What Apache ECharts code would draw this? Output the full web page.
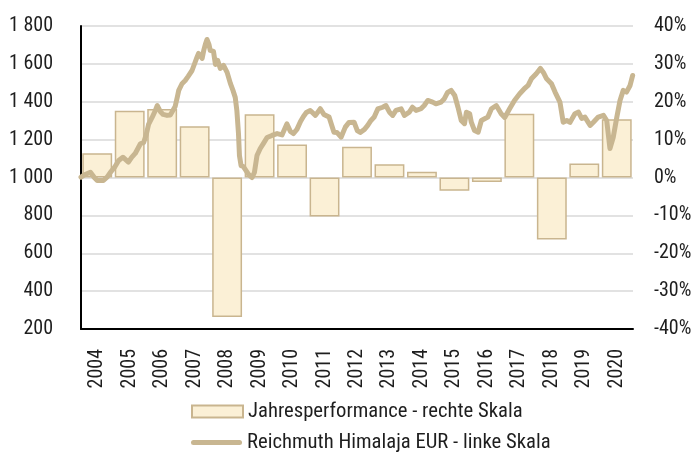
<!DOCTYPE html>
<html>
<head>
<meta charset="utf-8">
<script src="https://cdn.jsdelivr.net/npm/echarts@6/dist/echarts.min.js"></script>
<style>
html,body{margin:0;padding:0;background:#fff;}
#chart{width:699px;height:452px;}
</style>
</head>
<body>
<div id="chart"></div>
<script>
var years = ['2004','2005','2006','2007','2008','2009','2010','2011','2012','2013','2014','2015','2016','2017','2018','2019','2020'];
var annualPerformance = [6.4, 17.6, 18.1, 13.5, -36.8, 16.7, 8.7, -10.3, 8.1, 3.5, 1.5, -3.5, -1.2, 16.8, -16.4, 3.7, 15.4];

var lineDates = [2004.00,2004.13,2004.29,2004.41,2004.50,2004.69,2004.81,2004.90,2005.03,2005.16,2005.29,2005.46,2005.56,2005.67,2005.83,2005.93,
2006.01,2006.08,2006.19,2006.29,2006.35,2006.44,2006.53,2006.65,2006.75,2006.83,2006.90,2006.97,
2007.01,2007.11,2007.21,2007.30,2007.42,2007.50,2007.57,2007.62,2007.67,2007.73,2007.78,2007.83,2007.88,2007.94,2007.98,
2008.08,2008.14,2008.21,2008.29,2008.39,2008.50,2008.60,2008.68,2008.75,2008.80,2008.85,2008.88,2008.93,
2009.00,2009.06,2009.16,2009.27,2009.34,2009.42,2009.52,2009.62,2009.73,2009.88,
2010.04,2010.19,2010.34,2010.45,2010.54,2010.65,2010.76,2010.85,2010.94,
2011.06,2011.22,2011.37,2011.48,2011.64,2011.79,2011.88,
2012.01,2012.14,2012.25,2012.41,2012.51,2012.60,2012.73,2012.83,2012.93,
2013.03,2013.14,2013.29,2013.39,2013.50,2013.60,2013.70,2013.86,2013.96,
2014.11,2014.21,2014.32,2014.47,2014.57,2014.68,2014.83,2014.93,
2015.09,2015.19,2015.29,2015.40,2015.51,2015.61,2015.71,2015.81,2015.87,2015.97,
2016.02,2016.12,2016.23,2016.33,2016.43,2016.53,2016.64,2016.79,2016.94,
2017.05,2017.20,2017.35,2017.51,2017.66,2017.77,2017.87,
2018.02,2018.15,2018.24,2018.34,2018.49,2018.60,2018.75,2018.85,2018.96,
2019.06,2019.21,2019.32,2019.42,2019.52,2019.68,2019.78,2019.93,
2020.09,2020.19,2020.29,2020.39,2020.50,2020.60,2020.70,2020.80,2020.91,2020.99];

var lineValues = [1002,1016,1028,1000,984,984,1003,1026,1053,1090,1107,1081,1106,1127,1178,1185,
1227,1280,1317,1354,1380,1349,1333,1328,1330,1354,1375,1428,
1460,1495,1512,1534,1565,1602,1634,1655,1645,1629,1671,1703,1729,1703,1671,
1666,1597,1618,1576,1592,1555,1497,1460,1423,1354,1232,1116,1063,
1058,1053,1016,1000,1026,1116,1153,1180,1211,1222,
1232,1225,1283,1243,1232,1254,1296,1322,1343,
1354,1328,1363,1333,1319,1239,1238,
1213,1266,1291,1292,1248,1238,1254,1275,1301,
1319,1362,1371,1380,1345,1328,1354,1363,1328,
1345,1371,1354,1363,1380,1407,1398,1389,
1398,1416,1449,1460,1433,1371,1301,1284,1345,1337,
1292,1248,1239,1301,1310,1319,1363,1380,1337,
1317,1363,1407,1442,1470,1486,1521,
1548,1576,1555,1521,1495,1451,1398,1292,1301,
1291,1337,1345,1312,1319,1275,1292,1319,
1328,1301,1153,1211,1317,1407,1460,1451,1486,1539];

var leftMin = 200, leftMax = 1800, leftStep = 200;
var rightMin = -40, rightMax = 40, rightStep = 10;

// pick the narrowest installed font
function fontAvailable(name) {
  var c = document.createElement('canvas').getContext('2d');
  var s = 'Jahresperformance 1 800 -40%';
  var bases = ['monospace', 'serif'];
  for (var i = 0; i < bases.length; i++) {
    c.font = '20px ' + bases[i];
    var w0 = c.measureText(s).width;
    c.font = '20px "' + name + '", ' + bases[i];
    if (c.measureText(s).width !== w0) return true;
  }
  return false;
}
var candidates = ['Liberation Sans Narrow', 'Roboto Condensed', 'DejaVu Sans Condensed', 'Roboto', 'Liberation Sans'];
var chosen = 'sans-serif';
for (var k = 0; k < candidates.length; k++) {
  if (fontAvailable(candidates[k])) { chosen = candidates[k]; break; }
}
var FONT = "'" + chosen + "', sans-serif";
var veryNarrow = (chosen === 'Liberation Sans Narrow' || chosen === 'Roboto Condensed');
var FS = veryNarrow ? 20 : 19;
var LFS = veryNarrow ? 20.7 : 19;

var lineColor = '#c8b691';
var barFill = '#fbf0d6';
var barBorder = '#c9b58f';
var textColor = '#1e1e1e';

var seriesBar = 'Jahresperformance - rechte Skala';
var seriesLine = 'Reichmuth Himalaja EUR - linke Skala';

var linePoints = lineDates.map(function(d, i){ return [d, lineValues[i]]; });

var legendCommon = {
  orient: 'horizontal', left: 191, padding: 0,
  itemWidth: 51, itemHeight: 12, itemTextGap: 6,
  textStyle: {fontFamily: FONT, fontSize: LFS, lineHeight: 20, color: textColor}
};

var chart = echarts.init(document.getElementById('chart'), null, {renderer:'canvas'});
chart.setOption({
  animation: false,
  backgroundColor: '#ffffff',
  textStyle: {fontFamily: FONT},
  grid: {left: 81, right: 66, top: 26, bottom: 123, containLabel: false},
  legend: [
    Object.assign({}, legendCommon, {top: 401, data: [{name: seriesBar, icon: 'rect'}]}),
    Object.assign({}, legendCommon, {top: 432, data: [{name: seriesLine,
       icon: 'path://M2.5,0 H48.5 A2.5,2.5 0 0 1 48.5,5 H2.5 A2.5,2.5 0 0 1 2.5,0 Z',
       itemStyle: {color: lineColor, borderWidth: 0}}]})
  ],
  xAxis: [
    {
      type: 'category', data: years, position: 'bottom',
      axisLine: {show: true, onZero: false, lineStyle: {color: '#000', width: 2}},
      axisTick: {show: false},
      axisLabel: {rotate: 90, margin: 20, fontSize: FS, color: textColor, fontFamily: FONT},
      splitLine: {show: false}
    },
    {
      type: 'value', min: 2004, max: 2021, show: false
    }
  ],
  yAxis: [
    {
      type: 'value', position: 'left', min: leftMin, max: leftMax, interval: leftStep,
      axisLine: {show: true, lineStyle: {color: '#000', width: 2}},
      axisTick: {show: false},
      axisLabel: {margin: 28, fontSize: FS, color: textColor, fontFamily: FONT,
        formatter: function(v){ return String(v).replace(/\B(?=(\d{3})+(?!\d))/g, ' '); }},
      splitLine: {show: true, lineStyle: {color: '#d9d9d9', width: 1.5}}
    },
    {
      type: 'value', position: 'right', min: rightMin, max: rightMax, interval: rightStep,
      axisLine: {show: false},
      axisTick: {show: false},
      axisLabel: {margin: 21, fontSize: FS, color: textColor, fontFamily: FONT, formatter: '{value}%'},
      splitLine: {show: false}
    }
  ],
  series: [
    {
      name: seriesBar,
      type: 'bar', xAxisIndex: 0, yAxisIndex: 1,
      data: annualPerformance, barWidth: '92%',
      itemStyle: {color: barFill, borderColor: barBorder, borderWidth: 1.5},
      z: 2
    },
    {
      name: seriesLine,
      type: 'line', xAxisIndex: 1, yAxisIndex: 0,
      data: linePoints, showSymbol: false, symbol: 'none',
      lineStyle: {color: lineColor, width: 5, cap: 'round', join: 'round'},
      itemStyle: {color: lineColor},
      z: 3
    }
  ]
});
</script>
</body>
</html>
